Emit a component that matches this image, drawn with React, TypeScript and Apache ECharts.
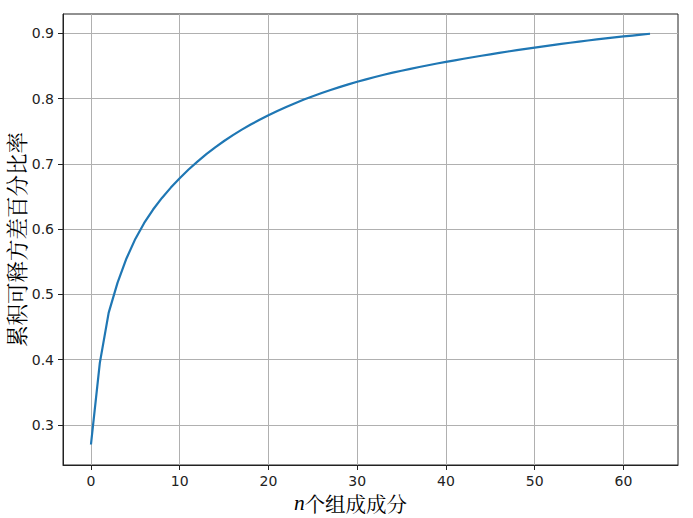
import { useEffect, useRef } from 'react';
import * as echarts from 'echarts';

// number of components (x) and cumulative explained variance ratio (y)
const components = [
    0, 1, 2, 3, 4, 5, 6, 7, 8, 9,
    10, 11, 12, 13, 14, 15, 16, 17, 18, 19,
    20, 21, 22, 23, 24, 25, 26, 27, 28, 29,
    30, 31, 32, 33, 34, 35, 36, 37, 38, 39,
    40, 41, 42, 43, 44, 45, 46, 47, 48, 49,
    50, 51, 52, 53, 54, 55, 56, 57, 58, 59,
    60, 61, 62, 63,
];
const cumulativeRatio = [
    0.2700, 0.3950, 0.4720, 0.5180, 0.5550, 0.5850, 0.6095, 0.6300, 0.6478, 0.6636,
    0.6780, 0.6913, 0.7035, 0.7148, 0.7253, 0.7350, 0.7440, 0.7524, 0.7602, 0.7675,
    0.7744, 0.7810, 0.7872, 0.7930, 0.7985, 0.8037, 0.8085, 0.8131, 0.8175, 0.8217,
    0.8257, 0.8295, 0.8331, 0.8365, 0.8397, 0.8427, 0.8456, 0.8484, 0.8511, 0.8537,
    0.8562, 0.8586, 0.8610, 0.8633, 0.8656, 0.8678, 0.8700, 0.8721, 0.8742, 0.8762,
    0.8782, 0.8801, 0.8820, 0.8838, 0.8856, 0.8873, 0.8890, 0.8906, 0.8922, 0.8937,
    0.8952, 0.8966, 0.8980, 0.8993,
];
const xTicks = [0, 10, 20, 30, 40, 50, 60];
const yTicks = [0.3, 0.4, 0.5, 0.6, 0.7, 0.8, 0.9];

const tickFont = { fontFamily: 'DejaVu Sans', fontSize: 14, color: '#222' };
const labelFont = "'Noto Serif CJK SC', 'Noto Sans CJK SC', serif";

export default function App() {
    const chartRef = useRef<HTMLDivElement>(null);

    useEffect(() => {
        if (!chartRef.current) return;
        const chart = echarts.init(chartRef.current, undefined, { renderer: 'svg' });

        chart.setOption({
            animation: false,
            backgroundColor: '#fff',
            grid: {
                left: 63, top: 14, right: 15, bottom: 53,
                containLabel: false,
                outerBoundsMode: 'none',
                show: true,
                borderColor: '#222',
                borderWidth: 1,
            },
            xAxis: {
                type: 'value',
                min: -3.15,
                max: 66.15,
                name: '{i|n}个组成成分',
                nameLocation: 'middle',
                nameGap: 28,
                nameMoveOverlap: false,
                nameTextStyle: {
                    fontFamily: labelFont,
                    fontSize: 20.5,
                    lineHeight: 20,
                    color: '#000',
                    padding: [0, 40, 0, 0],
                    rich: {
                        i: { fontStyle: 'italic', fontFamily: "'Liberation Serif', serif", fontSize: 21.5, lineHeight: 20, color: '#000' },
                    },
                },
                axisLine: { show: true, onZero: false, lineStyle: { color: '#222', width: 1 } },
                axisTick: { show: true, inside: false, length: 5, customValues: xTicks, lineStyle: { color: '#222' } },
                axisLabel: { ...tickFont, margin: 9, customValues: xTicks },
                splitLine: { show: true, lineStyle: { color: '#b0b0b0', width: 1 } },
            },
            yAxis: {
                type: 'value',
                min: 0.2386,
                max: 0.9296,
                name: '累积可释方差百分比率',
                nameLocation: 'middle',
                nameGap: 37,
                nameMoveOverlap: false,
                nameTextStyle: { fontFamily: labelFont, fontSize: 21.5, lineHeight: 21, color: '#000' },
                axisLine: { show: true, onZero: false, lineStyle: { color: '#222', width: 1 } },
                axisTick: { show: true, inside: false, length: 5, customValues: yTicks, lineStyle: { color: '#222' } },
                axisLabel: {
                    ...tickFont,
                    margin: 9,
                    customValues: yTicks,
                    formatter: (v: number) => v.toFixed(1),
                },
                splitLine: { show: true, lineStyle: { color: '#b0b0b0', width: 1 } },
            },
            series: [
                {
                    type: 'line',
                    data: components.map((n, i) => [n, cumulativeRatio[i]]),
                    showSymbol: false,
                    lineStyle: { color: '#1f77b4', width: 2.2 },
                    itemStyle: { color: '#1f77b4' },
                },
            ],
        });

        return () => {
            chart.dispose();
        };
    }, []);

    return (
        <div
            ref={chartRef}
            style={{ position: 'fixed', left: 0, top: 0, width: '693px', height: '518px', background: '#fff' }}
        />
    );
}
